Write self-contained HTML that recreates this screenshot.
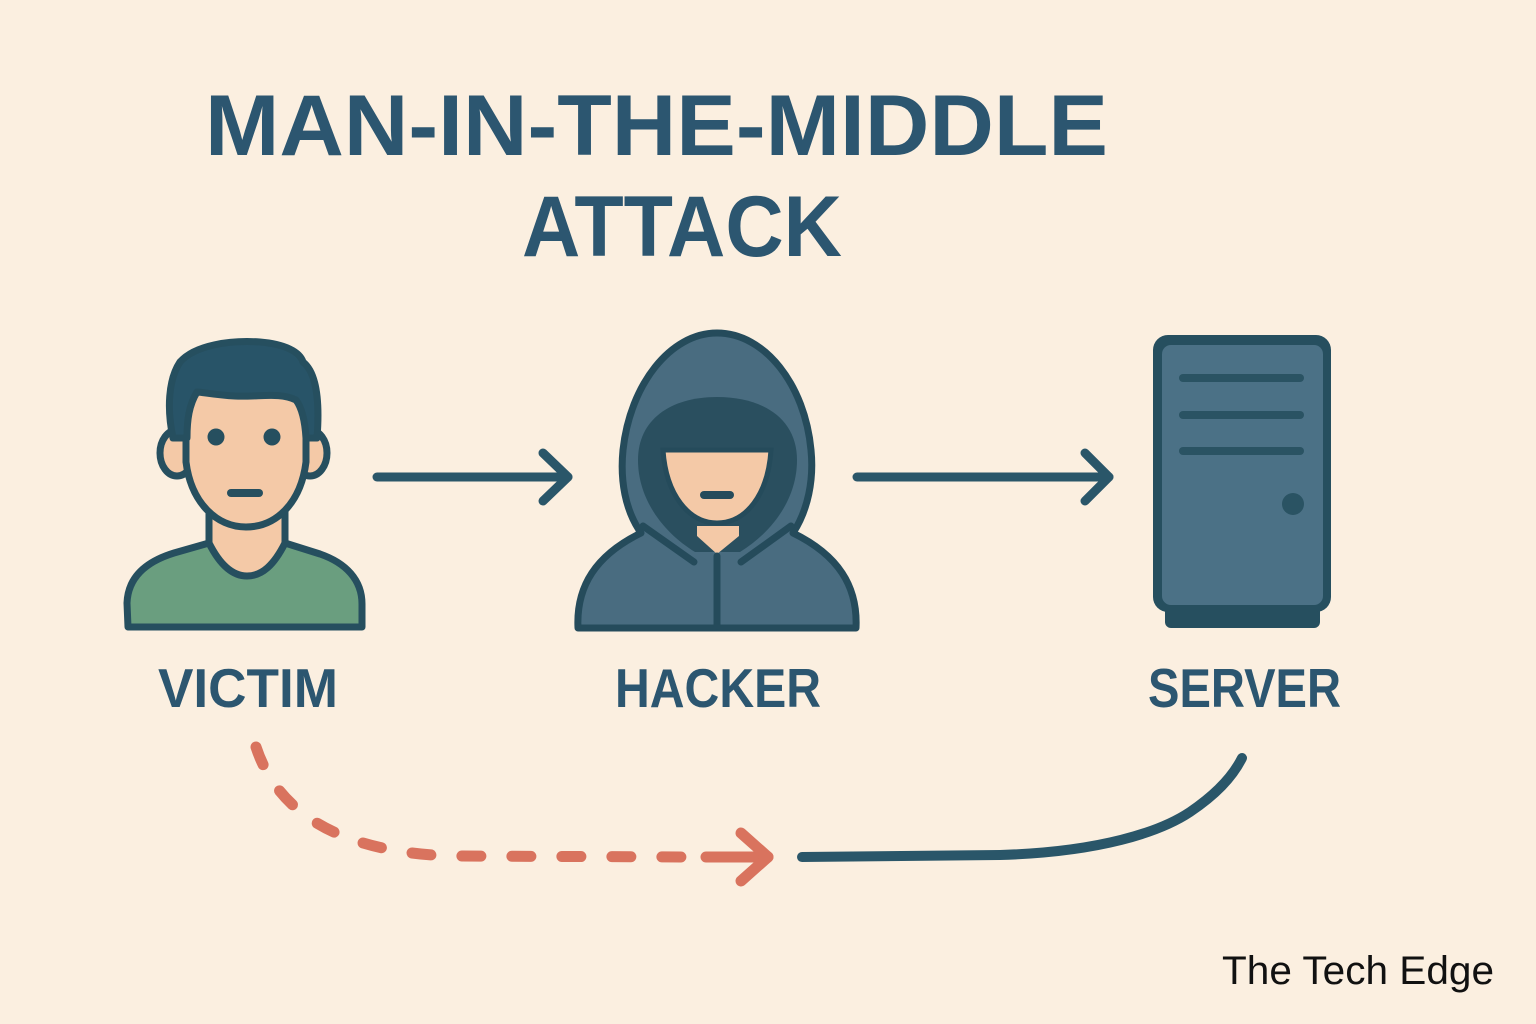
<!DOCTYPE html>
<html>
<head>
<meta charset="utf-8">
<style>
  html, body { margin:0; padding:0; background:#FBEFE0; }
  body { width:1536px; height:1024px; overflow:hidden; }
  svg { display:block; }
  .t { font-family:"Liberation Sans", sans-serif; font-weight:bold; fill:#2C5670; }
</style>
</head>
<body>
<svg width="1536" height="1024" viewBox="0 0 1536 1024" xmlns="http://www.w3.org/2000/svg">
  <rect x="0" y="0" width="1536" height="1024" fill="#FBEFE0"/>

  <!-- Title -->
  <text class="t" x="205" y="155" font-size="86" textLength="903" lengthAdjust="spacingAndGlyphs">MAN-IN-THE-MIDDLE</text>
  <text class="t" x="522" y="256" font-size="86" textLength="320" lengthAdjust="spacingAndGlyphs">ATTACK</text>

  <!-- ===== VICTIM ===== -->
  <!-- neck fill -->
  <rect x="209" y="500" width="76" height="80" fill="#F4C9A7"/>
  <g stroke="#264F5F" stroke-width="7" stroke-linejoin="round" stroke-linecap="round">
    <line x1="209" y1="505" x2="209" y2="545"/>
    <line x1="285" y1="505" x2="285" y2="545"/>
    <!-- shirt -->
    <path d="M128 627 L127 603 C128 576 148 561 174 553 L209 543 C220 565 233 576 247 576 C262 576 274 565 285 543 L320 554 C346 563 362 580 362 604 L362 627 Z" fill="#6A9E7F"/>
    <!-- ears -->
    <ellipse cx="177" cy="453" rx="17" ry="23" fill="#F4C9A7"/>
    <ellipse cx="310" cy="453" rx="17" ry="23" fill="#F4C9A7"/>
    <!-- face -->
    <path d="M186 405 L186 462 C191 502 216 527 246 527 C277 527 301 502 306 462 L306 405 C306 385 290 372 246 372 C202 372 186 385 186 405 Z" fill="#F4C9A7"/>
    <!-- hair -->
    <path d="M173 438 C167 410 168 380 180 362 C195 345 230 340 260 342 C285 344 300 352 303 362 C316 372 320 400 317 438 L306 438 C305 422 302 408 296 400 C280 392 260 397 235 396 C215 395 202 392 197 392 C189 405 187 420 187 438 Z" fill="#285468"/>
  </g>
  <circle cx="216" cy="437" r="8.5" fill="#264F5F"/>
  <circle cx="272" cy="437" r="8.5" fill="#264F5F"/>
  <line x1="231" y1="493" x2="259" y2="493" stroke="#264F5F" stroke-width="8" stroke-linecap="round"/>

  <!-- ===== HACKER ===== -->
  <g stroke="#254B5B" stroke-width="7" stroke-linejoin="round" stroke-linecap="round">
    <path d="M578 628 C576 586 596 555 641 533 C625 510 620 480 623 450 C630 385 670 333 717 333 C765 333 805 385 811 450 C814 480 808 510 793 533 C838 555 858 586 856 628 Z" fill="#496C80"/>
  </g>
  <!-- inner dark hood -->
  <path d="M695 552 C664 533 638 500 638 460 C638 420 670 397 717 397 C765 397 797 420 797 460 C797 500 771 533 740 552 Z" fill="#2A4F5F"/>
  <!-- face -->
  <path d="M663 450 L771 450 C768 495 746 523 717 523 C689 523 666 495 663 450 Z" fill="#F4C9A7" stroke="#254B5B" stroke-width="5"/>
  <!-- neck -->
  <path d="M697 526 L739 526 L739 536 L717 554 L697 536 Z" fill="#F4C9A7"/>
  <g stroke="#254B5B" stroke-width="7" stroke-linecap="round" fill="none">
    <line x1="643" y1="526" x2="694" y2="562"/>
    <line x1="791" y1="526" x2="741" y2="562"/>
    <line x1="717" y1="556" x2="717" y2="626"/>
  </g>
  <line x1="704" y1="495" x2="730" y2="495" stroke="#254B5B" stroke-width="8" stroke-linecap="round"/>

  <!-- ===== SERVER ===== -->
  <rect x="1165" y="590" width="155" height="38" rx="6" fill="#264F5F"/>
  <rect x="1153" y="335" width="178" height="277" rx="15" fill="#264F5F"/>
  <rect x="1162" y="345" width="161" height="260" rx="9" fill="#4B7186"/>
  <g stroke="#2A5363" stroke-width="8" stroke-linecap="round">
    <line x1="1183" y1="378" x2="1300" y2="378"/>
    <line x1="1183" y1="415" x2="1300" y2="415"/>
    <line x1="1183" y1="451" x2="1300" y2="451"/>
  </g>
  <circle cx="1293" cy="504" r="11" fill="#2A5363"/>

  <!-- ===== Arrows ===== -->
  <g stroke="#2A5669" stroke-width="9" stroke-linecap="round" stroke-linejoin="round" fill="none">
    <line x1="377" y1="477" x2="568" y2="477"/>
    <polyline points="543,453 568,477 543,501"/>
    <line x1="857" y1="477" x2="1109" y2="477"/>
    <polyline points="1085,453 1109,477 1085,501"/>
    <path d="M802 857 L1000 855 C1100 852 1160 832 1190 812 C1215 795 1232 778 1242 758" stroke-width="10"/>
  </g>

  <!-- dashed red -->
  <g stroke="#D9735E" stroke-width="11" stroke-linecap="round" stroke-linejoin="round" fill="none">
    <path d="M256 747 Q290 850 450 856 L690 857" stroke-dasharray="19 31"/>
    <line x1="706" y1="857" x2="768" y2="857"/>
    <polyline points="741,833 768,857 741,881"/>
  </g>

  <!-- Labels -->
  <text class="t" x="158" y="707" font-size="55" textLength="180" lengthAdjust="spacingAndGlyphs">VICTIM</text>
  <text class="t" x="615" y="707" font-size="55" textLength="206" lengthAdjust="spacingAndGlyphs">HACKER</text>
  <text class="t" x="1148" y="707" font-size="55" textLength="193" lengthAdjust="spacingAndGlyphs">SERVER</text>

  <text x="1222" y="984" font-family="Liberation Sans, sans-serif" font-size="40" fill="#111111" textLength="272" lengthAdjust="spacingAndGlyphs">The Tech Edge</text>
</svg>
</body>
</html>
